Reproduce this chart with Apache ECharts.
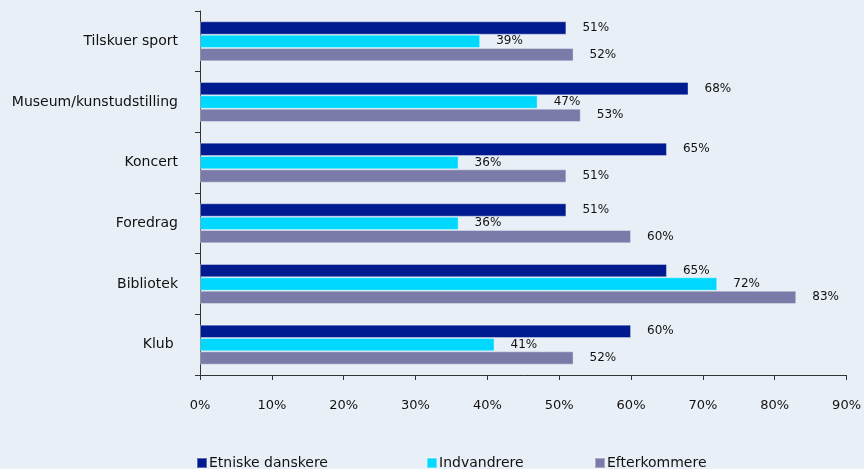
<!DOCTYPE html>
<html><head><meta charset="utf-8">
<script src="https://cdn.jsdelivr.net/npm/echarts@6/dist/echarts.min.js"></script>
<style>html,body{margin:0;padding:0;background:#E9EFF6}#c{width:864px;height:469px}</style>
</head><body><div id="c"></div>
<script>
const categories = ["Tilskuer sport", "Museum/kunstudstilling", "Koncert", "Foredrag", "Bibliotek", "Klub "];
const seriesNames = ["Etniske danskere", "Indvandrere", "Efterkommere"];
const etniske = [51, 68, 65, 51, 65, 60];
const indvandrere = [39, 47, 36, 36, 72, 41];
const efterkommere = [52, 53, 51, 60, 83, 52];
const xTicks = [0, 10, 20, 30, 40, 50, 60, 70, 80, 90];
const colors = ["#001A8F", "#00D8FF", "#7B7BAA"];

const font = "DejaVu Sans";
const chart = echarts.init(document.getElementById('c'), null, {renderer: 'canvas'});
const values = [etniske, indvandrere, efterkommere];
chart.setOption({
  backgroundColor: '#E9EFF6',
  animation: false,
  textStyle: {fontFamily: font},
  grid: {left: 200, top: 11, width: 649, height: 364, containLabel: false},
  legend: [0, 1, 2].map(i => ({
    data: [seriesNames[i]],
    left: [191, 421, 589][i],
    top: 451,
    itemWidth: 10, itemHeight: 10, itemGap: 0,
    icon: 'rect',
    textStyle: {fontFamily: font, fontSize: 14, color: '#111', padding: [0, 0, 0, -3]}
  })),
  xAxis: {
    type: 'value', min: xTicks[0], max: xTicks[xTicks.length - 1], interval: 10,
    axisLine: {show: true, lineStyle: {color: '#333', width: 1}},
    axisTick: {show: true, length: 5, inside: false, lineStyle: {color: '#333'}},
    splitLine: {show: false},
    axisLabel: {formatter: v => v + '%', fontFamily: font, fontSize: 13, color: '#111', margin: 24}
  },
  yAxis: {
    type: 'category', data: categories, inverse: true,
    axisLine: {show: true, lineStyle: {color: '#333', width: 1}},
    axisTick: {show: true, length: 5, lineStyle: {color: '#333'}},
    axisLabel: {fontFamily: font, fontSize: 14, color: '#111', margin: 22}
  },
  series: values.map((d, i) => ({
    name: seriesNames[i],
    type: 'bar',
    data: d,
    barGap: '0%',
    barCategoryGap: '34%',
    itemStyle: {color: colors[i], borderColor: 'rgba(255,255,255,0.35)', borderWidth: 1},
    label: {show: true, position: 'right', distance: 16, formatter: p => p.value + '%',
            fontFamily: font, fontSize: 12, color: '#111'}
  }))
});
</script></body></html>
